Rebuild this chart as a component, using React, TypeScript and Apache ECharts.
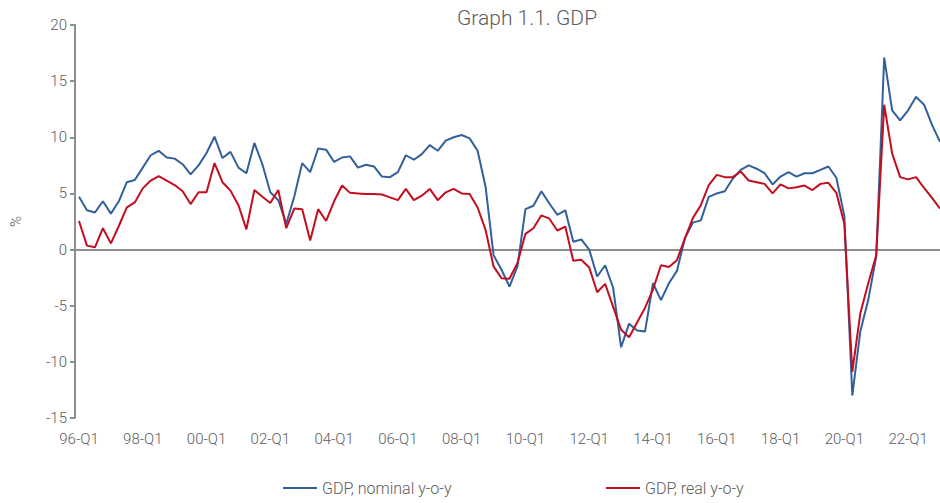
import React, { useEffect, useRef } from "react";
import * as echarts from "echarts";

// Quarter categories 96-Q1 .. 23-Q1
const QUARTERS: string[] = [];
for (let y = 1996; y <= 2023; y++) {
  for (let q = 1; q <= 4; q++) {
    if (y === 2023 && q > 1) break;
    QUARTERS.push(String(y % 100).padStart(2, "0") + "-Q" + q);
  }
}

const TICK_LABELS = [
  "96-Q1", "98-Q1", "00-Q1", "02-Q1", "04-Q1", "06-Q1", "08-Q1",
  "10-Q1", "12-Q1", "14-Q1", "16-Q1", "18-Q1", "20-Q1", "22-Q1",
];

const Y_TICKS = { min: -15, max: 20, step: 5 };

const SERIES_NAMES = ["GDP, nominal y-o-y", "GDP, real y-o-y"];

const NOMINAL = [
  4.7, 3.5, 3.3, 4.3, 3.2, 4.3, 6.0, 6.2, 7.3, 8.4, 8.8, 8.2, 8.1, 7.6, 6.7, 7.5,
  8.6, 10.05, 8.15, 8.7, 7.3, 6.8, 9.5, 7.6, 5.1, 4.4, 2.3, 4.7, 7.7, 6.9, 9.0, 8.9,
  7.8, 8.2, 8.3, 7.3, 7.55, 7.4, 6.5, 6.45, 6.9, 8.4, 8.0, 8.5, 9.3, 8.8, 9.7, 10.0,
  10.2, 9.9, 8.8, 5.6, -0.5, -1.8, -3.3, -1.5, 3.6, 3.9, 5.2, 4.1, 3.1, 3.5, 0.7, 0.9,
  0.0, -2.4, -1.4, -3.4, -8.7, -6.6, -7.2, -7.3, -3.0, -4.5, -3.0, -1.9, 1.0, 2.4, 2.6, 4.7,
  5.0, 5.2, 6.3, 7.1, 7.5, 7.2, 6.8, 5.8, 6.5, 6.9, 6.5, 6.8, 6.8, 7.1, 7.4, 6.4,
  3.0, -13.0, -7.3, -4.5, -0.6, 17.1, 12.4, 11.5, 12.4, 13.6, 12.9, 11.1, 9.6,
];

const REAL = [
  2.55, 0.35, 0.2, 1.9, 0.55, 2.1, 3.75, 4.2, 5.45, 6.15, 6.55, 6.15, 5.75, 5.2, 4.05, 5.1,
  5.1, 7.7, 6.0, 5.25, 3.95, 1.8, 5.3, 4.7, 4.15, 5.3, 1.9, 3.65, 3.6, 0.8, 3.6, 2.55,
  4.3, 5.7, 5.05, 5.0, 4.95, 4.95, 4.9, 4.65, 4.4, 5.4, 4.4, 4.8, 5.4, 4.4, 5.1, 5.4,
  5.0, 4.95, 3.75, 1.75, -1.5, -2.55, -2.6, -1.2, 1.4, 1.9, 3.05, 2.75, 1.7, 2.05, -1.0, -0.9,
  -1.6, -3.8, -3.05, -5.1, -7.15, -7.8, -6.5, -5.2, -3.55, -1.4, -1.55, -0.95, 1.0, 2.8, 3.95, 5.75,
  6.65, 6.45, 6.45, 6.95, 6.15, 6.0, 5.85, 5.0, 5.8, 5.45, 5.55, 5.7, 5.3, 5.85, 5.95, 5.05,
  2.3, -10.9, -5.7, -3.0, -0.5, 12.9, 8.55, 6.45, 6.25, 6.45, 5.5, 4.6, 3.65,
];

const BLUE = "#32609b";
const RED = "#c20e1e";
const AXIS_GREY = "#8e8e8e";
const TEXT = "#5c5c5c";
const FONT = "Roboto, 'Noto Sans', sans-serif";

export default function App() {
  const ref = useRef<HTMLDivElement>(null);

  useEffect(() => {
    if (!ref.current) return;
    const chart = echarts.init(ref.current, undefined, { renderer: "svg" });
    const tickIdx = TICK_LABELS.map((l) => QUARTERS.indexOf(l));
    const legendText = { fontSize: 16, color: TEXT, fontFamily: FONT, fontWeight: 300 };

    chart.setOption({
      animation: false,
      textStyle: { fontFamily: FONT },
      graphic: [
        {
          type: "text",
          x: 527,
          y: 18,
          style: {
            text: "Graph 1.1. GDP",
            fontSize: 21,
            fontWeight: 300,
            fontFamily: FONT,
            fill: TEXT,
            textAlign: "center",
            textVerticalAlign: "middle",
          },
        },
      ],
      legend: [
        {
          data: [SERIES_NAMES[0]],
          left: 283,
          top: 480,
          padding: 0,
          icon: "rect",
          itemWidth: 34,
          itemHeight: 2,
          textStyle: legendText,
        },
        {
          data: [SERIES_NAMES[1]],
          left: 606,
          top: 480,
          padding: 0,
          icon: "rect",
          itemWidth: 34,
          itemHeight: 2,
          textStyle: legendText,
        },
      ],
      grid: { left: 72, right: 0, top: 25, bottom: 85, containLabel: false },
      xAxis: {
        type: "value",
        min: -0.5,
        max: QUARTERS.length - 1,
        axisLine: { show: false, onZero: false },
        axisTick: { show: false },
        splitLine: { show: false },
        axisLabel: {
          customValues: tickIdx,
          formatter: (v: number) => QUARTERS[Math.round(v)] ?? "",
          fontSize: 15,
          color: TEXT,
          fontFamily: FONT,
          fontWeight: 300,
          margin: 13,
        },
      },
      yAxis: {
        type: "value",
        min: Y_TICKS.min,
        max: Y_TICKS.max,
        interval: Y_TICKS.step,
        name: "%",
        nameLocation: "middle",
        nameGap: 52,
        nameRotate: 90,
        nameTextStyle: { fontSize: 15, color: TEXT, fontFamily: FONT, fontWeight: 300 },
        axisLine: { show: true, onZero: false, lineStyle: { color: AXIS_GREY, width: 2 } },
        axisTick: { show: true, length: 5, lineStyle: { color: AXIS_GREY, width: 2 } },
        splitLine: { show: false },
        axisLabel: { fontSize: 15, color: TEXT, fontFamily: FONT, fontWeight: 300, margin: 8 },
      },
      series: [
        {
          name: SERIES_NAMES[0],
          type: "line",
          symbol: "none",
          color: BLUE,
          lineStyle: { color: BLUE, width: 2 },
          data: NOMINAL.map((v, i) => [i, v]),
          markLine: {
            silent: true,
            symbol: ["none", "none"],
            label: { show: false },
            lineStyle: { color: AXIS_GREY, width: 2, type: "solid" },
            data: [{ yAxis: 0 }],
            z: 1,
          },
        },
        {
          name: SERIES_NAMES[1],
          type: "line",
          symbol: "none",
          color: RED,
          lineStyle: { color: RED, width: 2 },
          data: REAL.map((v, i) => [i, v]),
        },
      ],
    });

    return () => chart.dispose();
  }, []);

  return (
    <div
      ref={ref}
      style={{ position: "fixed", left: 0, top: 0, width: 940, height: 503, background: "#fff" }}
    />
  );
}
